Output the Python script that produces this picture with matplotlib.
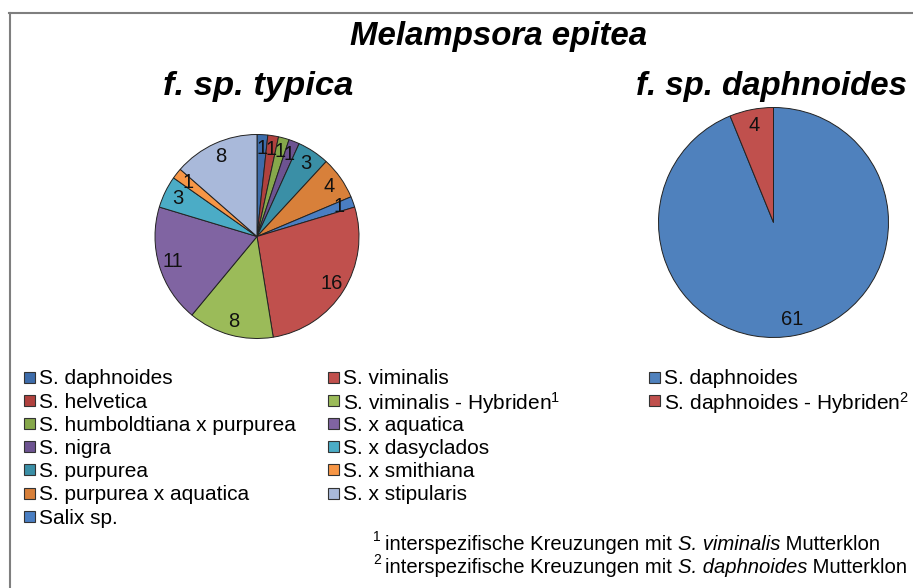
import matplotlib
matplotlib.use("Agg")
import matplotlib.pyplot as plt
from matplotlib.patches import Rectangle
from matplotlib.lines import Line2D

plt.rcParams['font.family'] = ['Liberation Sans', 'DejaVu Sans']
plt.rcParams['mathtext.fontset'] = 'custom'
plt.rcParams['mathtext.rm'] = 'Liberation Sans'
plt.rcParams['mathtext.it'] = 'Liberation Sans:italic'
plt.rcParams['mathtext.bf'] = 'Liberation Sans:bold'

# ---- data ----
title = "Melampsora epitea"
subtitle_left = "f. sp. typica"
subtitle_right = "f. sp. daphnoides"

typica_labels = [
    "S. daphnoides", "S. helvetica", "S. humboldtiana x purpurea", "S. nigra",
    "S. purpurea", "S. purpurea x aquatica", "Salix sp.",
    "S. viminalis", "S. viminalis - Hybriden$^1$", "S. x aquatica",
    "S. x dasyclados", "S. x smithiana", "S. x stipularis",
]
typica_values = [1, 1, 1, 1, 3, 4, 1, 16, 8, 11, 3, 1, 8]
typica_colors = [
    "#3D6CAA", "#B0413E", "#86A84B", "#6D5391", "#3A8FA6", "#D8803A", "#4A7EC2",
    "#C0504D", "#9BBB59", "#8064A2", "#4BACC6", "#F79646", "#A9B9DA",
]

daph_labels = ["S. daphnoides", "S. daphnoides - Hybriden$^2$"]
daph_values = [61, 4]
daph_colors = ["#4F81BD", "#C0504D"]

footnote_marks = ["1", "2"]
footnote_parts = [
    [("interspezifische Kreuzungen mit ", "normal"), ("S. viminalis", "italic"), (" Mutterklon", "normal")],
    [("interspezifische Kreuzungen mit ", "normal"), ("S. daphnoides", "italic"), (" Mutterklon", "normal")],
]

W, H = 913, 588
fig = plt.figure(figsize=(W / 100, H / 100), dpi=100)
fig.patch.set_facecolor("white")


def fx(px):
    return px / W


def fy(py):
    return 1 - py / H


# border (left and top visible)
fig.add_artist(Line2D([fx(9.5), fx(9.5)], [0, fy(13)], transform=fig.transFigure,
                      color="#7f7f7f", lw=1.5))
fig.add_artist(Line2D([fx(9), fx(912)], [fy(13), fy(13)], transform=fig.transFigure,
                      color="#7f7f7f", lw=1.5))

fig.text(fx(499), fy(36), title, ha="center", va="center", fontsize=23.8,
         fontweight="bold", fontstyle="italic")
fig.text(fx(258), fy(87), subtitle_left, ha="center", va="center", fontsize=24.8,
         fontweight="bold", fontstyle="italic")
fig.text(fx(771), fy(87), subtitle_right, ha="center", va="center", fontsize=23.8,
         fontweight="bold", fontstyle="italic")


def pie_axes(cx, cy, r, values, colors):
    m = 1.1
    ax = fig.add_axes([fx(cx - r * m), fy(cy + r * m), 2 * r * m / W, 2 * r * m / H])
    total = sum(values)
    ax.pie(values, colors=colors, startangle=90, counterclock=False,
           wedgeprops=dict(edgecolor="#222222", linewidth=0.7),
           autopct=lambda p: f"{round(p * total / 100)}", pctdistance=0.86,
           textprops=dict(fontsize=14.5, color="#111111"))
    ax.set_xlim(-m, m)
    ax.set_ylim(-m, m)
    ax.set_aspect("equal")
    ax.axis("off")
    return ax


pie_axes(257, 236.5, 102, typica_values, typica_colors)
pie_axes(773.5, 222.5, 115, daph_values, daph_colors)


def draw_legend(labels, colors, x, y0, step=23.2, size=11):
    for i, (lab, col) in enumerate(zip(labels, colors)):
        yc = y0 + i * step
        fig.add_artist(Rectangle((fx(x), fy(yc + size / 2)), size / W, size / H,
                                 transform=fig.transFigure, facecolor=col,
                                 edgecolor="#333333", linewidth=0.8))
        fig.text(fx(x + size + 4), fy(yc), lab, ha="left", va="center_baseline", fontsize=15)


draw_legend(typica_labels[:7], typica_colors[:7], 24, 377)
draw_legend(typica_labels[7:], typica_colors[7:], 328, 377)
draw_legend(daph_labels, daph_colors, 649, 377)

fig.canvas.draw()
renderer = fig.canvas.get_renderer()
for i, (mark, parts) in enumerate(zip(footnote_marks, footnote_parts)):
    yb = 550 + i * 23
    fig.text(fx(373), fy(yb - 9), mark, ha="left", va="baseline", fontsize=10)
    x = 385
    for txt, style in parts:
        t = fig.text(fx(x), fy(yb), txt, ha="left", va="baseline", fontsize=14.6, fontstyle=style)
        bb = t.get_window_extent(renderer)
        x += bb.width

fig.savefig("out.png", dpi=100, facecolor="white")
